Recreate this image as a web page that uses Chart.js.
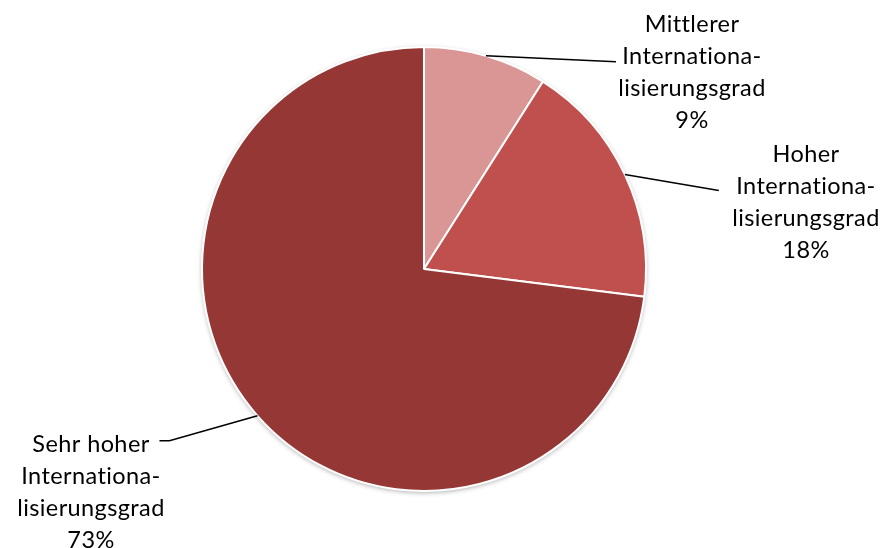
<!DOCTYPE html>
<html>
<head>
<meta charset="utf-8">
<script src="https://cdn.jsdelivr.net/npm/chart.js@4.4.1/dist/chart.umd.min.js"></script>
<style>
  html, body { margin: 0; padding: 0; background: #ffffff; }
  #wrap { width: 892px; height: 548px; position: relative; }
</style>
</head>
<body>
<div id="wrap"><canvas id="chart" width="892" height="548"></canvas></div>
<script>
// Anteil nach Internationalisierungsgrad (Prozent)
const categories = [
  ['Mittlerer', 'Internationa-', 'lisierungsgrad'],
  ['Hoher', 'Internationa-', 'lisierungsgrad'],
  ['Sehr hoher', 'Internationa-', 'lisierungsgrad']
];
const shares = [9, 18, 73];
const sliceColors = ['#D99694', '#C0504D', '#953735'];

// Placement of each callout: text centre x, first baseline y,
// and the elbow of the leader line relative to the slice edge.
const calloutLayout = [
  { cx: 692, y0: 32,  elbow: [130, 6],  tail: null },
  { cx: 806, y0: 162, elbow: [94, 16],  tail: null },
  { cx: 91,  y0: 452, elbow: [-88, 25], tail: -10 }
];

const FONT_FAMILY = 'Lato, "Open Sans", sans-serif';
const FONT_SIZE = 23.5;
const LINE_PITCH = 32;

// Soft drop shadow behind the whole pie
const pieShadow = {
  id: 'pieShadow',
  beforeDatasetsDraw(chart) {
    const arc = chart.getDatasetMeta(0).data[0];
    if (!arc) return;
    const p = arc.getProps(['x', 'y', 'outerRadius'], true);
    const ctx = chart.ctx;
    ctx.save();
    ctx.shadowColor = 'rgba(0,0,0,0.35)';
    ctx.shadowBlur = 5;
    ctx.shadowOffsetY = 1.5;
    ctx.fillStyle = '#ffffff';
    ctx.beginPath();
    ctx.arc(p.x, p.y, p.outerRadius, 0, Math.PI * 2);
    ctx.fill();
    ctx.restore();
  }
};

const calloutPlugin = {
  id: 'callouts',
  afterDraw(chart) {
    const ctx = chart.ctx;
    const meta = chart.getDatasetMeta(0);
    const total = shares.reduce((a, b) => a + b, 0);
    ctx.save();
    ctx.font = FONT_SIZE + 'px ' + FONT_FAMILY;
    // a small tracking value keeps the "ti" pair from merging into a ligature
    if ('letterSpacing' in ctx) ctx.letterSpacing = '0.4px';
    ctx.fillStyle = '#000000';
    ctx.textAlign = 'center';
    ctx.textBaseline = 'alphabetic';
    meta.data.forEach((arc, i) => {
      const p = arc.getProps(['x', 'y', 'startAngle', 'endAngle', 'outerRadius'], true);
      const mid = (p.startAngle + p.endAngle) / 2;
      const ex = p.x + Math.cos(mid) * p.outerRadius;
      const ey = p.y + Math.sin(mid) * p.outerRadius;
      const lay = calloutLayout[i];
      const bx = ex + lay.elbow[0];
      const by = ey + lay.elbow[1];
      ctx.beginPath();
      ctx.strokeStyle = '#000000';
      ctx.lineWidth = 1.5;
      ctx.moveTo(ex, ey);
      ctx.lineTo(bx, by);
      if (lay.tail !== null) ctx.lineTo(bx + lay.tail, by);
      ctx.stroke();
      const lines = categories[i].concat([Math.round(shares[i] / total * 100) + '%']);
      lines.forEach((t, k) => ctx.fillText(t, lay.cx, lay.y0 + k * LINE_PITCH));
    });
    ctx.restore();
  }
};

new Chart(document.getElementById('chart'), {
  type: 'pie',
  data: {
    labels: categories.map(c => c.join(' ')),
    datasets: [{
      data: shares,
      backgroundColor: sliceColors,
      borderColor: '#ffffff',
      borderWidth: 2
    }]
  },
  options: {
    responsive: false,
    animation: false,
    layout: { padding: { left: 201, right: 245, top: 46, bottom: 56 } },
    plugins: { legend: { display: false }, tooltip: { enabled: false } }
  },
  plugins: [pieShadow, calloutPlugin]
});
</script>
</body>
</html>
